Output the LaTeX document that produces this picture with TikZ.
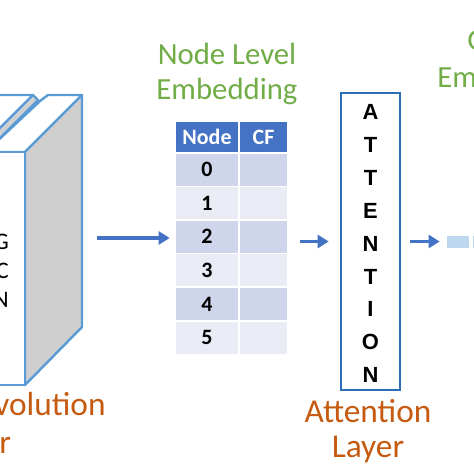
\documentclass[tikz,border=0pt]{standalone}
\usepackage{fontspec}
\setmainfont{Carlito}
\newfontfamily\arialish{Liberation Sans}
\usepackage{xcolor}
\usetikzlibrary{arrows.meta,positioning}
\definecolor{hdblue}{HTML}{4472C4}
\definecolor{bkblue}{HTML}{5B9BD5}
\definecolor{atblue}{HTML}{2E6DB8}
\definecolor{rowA}{HTML}{CFD5EA}
\definecolor{rowB}{HTML}{E9EBF5}
\definecolor{lbgreen}{HTML}{70AD47}
\definecolor{lborange}{HTML}{C55A11}
\definecolor{embblue}{HTML}{BDD7EE}
\tikzset{
  hcell/.style={fill=hdblue,text=white,font=\fontsize{12.5}{14}\selectfont\bfseries,minimum height=0.6cm,inner sep=0pt},
  tcell/.style={font=\fontsize{12.5}{14}\selectfont\bfseries,minimum height=0.64cm,inner sep=0pt},
  wA/.style={minimum width=1.24cm}, wB/.style={minimum width=0.94cm},
  glbl/.style={text=lbgreen,font=\fontsize{17.5}{19.8}\selectfont,align=center,inner sep=0pt},
  olbl/.style={text=lborange,font=\fontsize{19}{19.8}\selectfont,align=center,inner sep=0pt},
  arr/.style={draw=hdblue,line width=1.8pt,-{Triangle[length=2.2mm,width=2.6mm]}},
  bk/.style={draw=bkblue,line width=1.4pt,line join=round},
  letter/.style={font=\arialish\fontsize{12.5}{13}\selectfont\bfseries,inner sep=0pt},
}
\begin{document}
\begin{tikzpicture}[x=0.02cm,y=-0.02cm]
  \useasboundingbox (0,0) rectangle (474,474);
  \clip (0,0) rectangle (474,474);
  % book (convolution layer)
  \fill[white,bk] (-10,95) -- (33,95) -- (-10,138) -- cycle;
  \fill[black!18,bk] (33,95) -- (38,100) -- (-8,146) -- (-10,146) -- (-10,138) -- cycle;
  \fill[white,bk] (48,95) -- (82,95) -- (25,152) -- (-10,152) -- (-10,146) -- (-8,146) -- (40,101) -- cycle;
  \fill[black!19,bk] (25,152) -- (82,95) -- (82,327) -- (25,385) -- cycle;
  \fill[white,bk] (-10,152) rectangle (25,385);
  \node[font=\fontsize{13.5}{15}\selectfont,anchor=east] (g) at (15,242) {G};
  \node[font=\fontsize{13.5}{15}\selectfont,anchor=east] (c) at (15,271) {C};
  \node[font=\fontsize{13.5}{15}\selectfont,anchor=east] (n) at (15,300) {N};
  \node[olbl,anchor=base west] (conv1) at (-6,415) {volution};
  \node[olbl,anchor=base west] (conv2) at (-1,453) {r};
  % node level embedding table
  \node[glbl,anchor=base] (nle) at (227,99) {Node Level\\Embedding};
  \node[hcell,wA] (h1) at (207,137) {Node};
  \node[hcell,wB] (h2) at (263.5,137) {CF};
  \foreach \i/\c in {0/rowA,1/rowB,2/rowA,3/rowB,4/rowA,5/rowB}{
    \node[tcell,wA,fill=\c] (n\i) at (207,169.5+\i*33.6) {\i};
    \node[tcell,wB,fill=\c] (f\i) at (263.5,169.5+\i*33.6) {};
  }
  % attention layer
  \node[draw=atblue,line width=1.5pt,minimum width=1.18cm,minimum height=5.94cm,inner sep=0pt] (att) at (370.5,241.5) {};
  \foreach \t [count=\k from 0] in {A,T,T,E,N,T,I,O,N}
    \node[letter] (l\k) at (370.5,112+\k*32.9) {\t};
  \node[olbl,anchor=base] (al) at (368,457) {Attention\\Layer};
  % graph level embedding (cut off)
  \node[glbl,anchor=base west] (gle1) at (467,50) {G};
  \node[glbl,anchor=base west] (gle2) at (437,87) {Em};
  \node[fill=embblue,minimum width=0.44cm,minimum height=0.24cm,inner sep=0pt] (emb) at (458,241.5) {};
  \node[fill=embblue,minimum width=0.2cm,minimum height=0.24cm,inner sep=0pt,right=0.06cm of emb] (emb2) {};
  % arrows
  \coordinate (a1s) at (97,238);
  \draw[arr,shorten >=0.12cm] (a1s) -- (a1s -| n2.west);
  \draw[arr,shorten <=0.26cm,shorten >=0.22cm] (f2.east |- att.west) -- (att.west);
  \draw[arr,shorten <=0.18cm,shorten >=0.14cm] (att.east) -- (emb.west);
\end{tikzpicture}
\end{document}
